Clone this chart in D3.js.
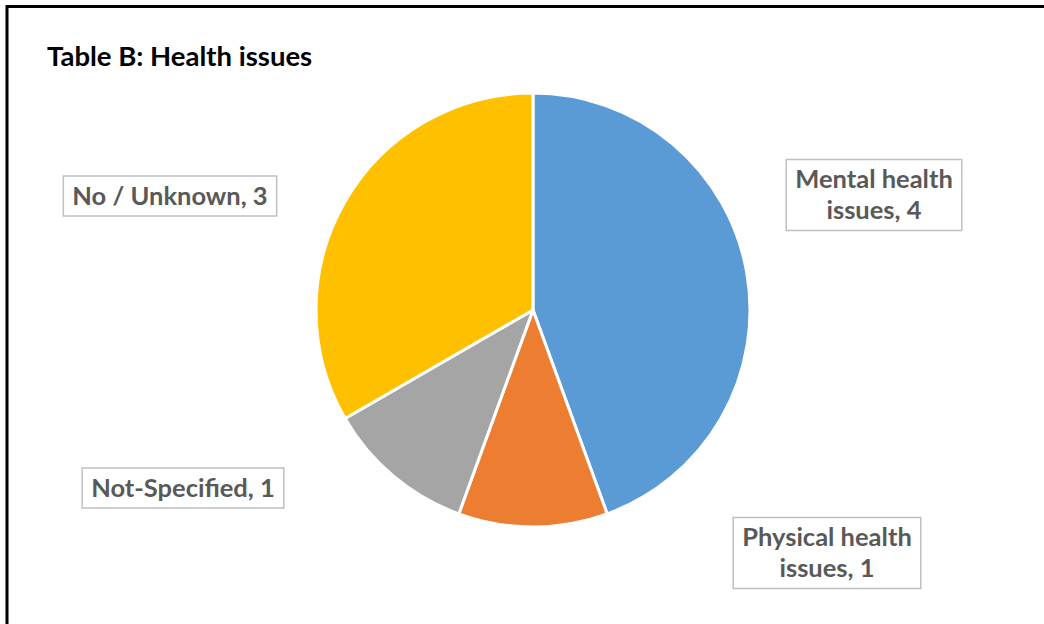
<!DOCTYPE html>
<html>
<head>
<meta charset="utf-8">
<script src="https://cdn.jsdelivr.net/npm/d3@7"></script>
<style>
  body { margin: 0; background: #fff; }
  svg { display: block; }
</style>
</head>
<body>
<div id="chart"></div>
<script>
// data
const categories = ['Mental health issues', 'Physical health issues', 'Not-Specified', 'No / Unknown'];
const values = [4, 1, 1, 3];
const labelLines = [['Mental health', 'issues, 4'], ['Physical health', 'issues, 1'], ['Not-Specified, 1'], ['No / Unknown, 3']];
const colors = ['#5B9BD5', '#ED7D31', '#A5A5A5', '#FFC000'];

// layout: label box centres (Excel "best fit" placement)
const labelCenters = [[874, 195], [827, 553], [183, 488], [170, 196]];

const W = 1044, H = 624;
const cx = 533, cy = 310, r = 217;
const font = 'Lato, "Open Sans", sans-serif';

const svg = d3.select('#chart')
	.append('svg')
	.attr('width', W)
	.attr('height', H);

svg.append('rect')
	.attr('width', W).attr('height', H)
	.attr('fill', '#fff');

// outer frame
svg.append('rect')
	.attr('x', 7).attr('y', 6.5)
	.attr('width', W + 20).attr('height', H + 20)
	.attr('fill', 'none')
	.attr('stroke', '#000')
	.attr('stroke-width', 3);

// title
svg.append('text')
	.attr('x', 47).attr('y', 66)
	.attr('font-family', font)
	.attr('font-weight', 700)
	.attr('font-size', 27.5)
	.attr('fill', '#000')
	.text('Table B: Health issues');

// pie
const pie = d3.pie().sort(null).value(d => d);
const arc = d3.arc().innerRadius(0).outerRadius(r);

const g = svg.append('g')
	.attr('transform', `translate(${cx},${cy})`);

g.selectAll('path')
	.data(pie(values))
	.join('path')
	.attr('d', arc)
	.attr('fill', (d, i) => colors[i])
	.attr('stroke', '#fff')
	.attr('stroke-width', 3)
	.attr('stroke-linejoin', 'round');

// labels
const lineH = 31;
const labels = svg.selectAll('g.label')
	.data(labelLines)
	.join('g')
	.attr('class', 'label')
	.attr('transform', (d, i) => `translate(${labelCenters[i][0]},${labelCenters[i][1]})`);

labels.each(function (lines) {
	const lg = d3.select(this);
	const box = lg.append('rect');
	const txt = lg.append('text')
		.attr('text-anchor', 'middle')
		.attr('font-family', font)
		.attr('font-weight', 700)
		.attr('font-size', 25.5)
		.attr('fill', '#595959');
	const top = -(lines.length - 1) * lineH / 2;
	lines.forEach((s, k) => {
		txt.append('tspan')
			.attr('x', 0)
			.attr('y', top + k * lineH)
			.attr('dy', '0.35em')
			.text(s);
	});
	const w = txt.node().getBBox().width + 18;
	const h = lines.length * lineH + 9;
	box.attr('x', -w / 2).attr('y', -h / 2)
		.attr('width', w).attr('height', h)
		.attr('fill', '#fff')
		.attr('stroke', '#BFBFBF')
		.attr('stroke-width', 1.5);
});
</script>
</body>
</html>
